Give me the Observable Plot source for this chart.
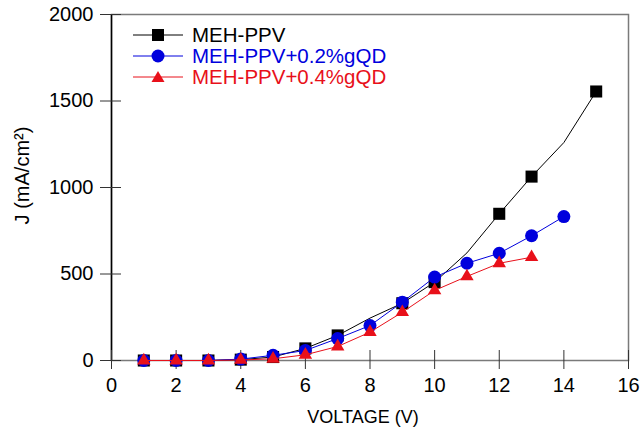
<!DOCTYPE html>
<html><head><meta charset="utf-8">
<script src="https://cdn.jsdelivr.net/npm/d3@7"></script>
<script src="https://cdn.jsdelivr.net/npm/@observablehq/plot@0.6"></script>
<style>
html,body{margin:0;padding:0;background:#fff;}
#wrap{position:relative;width:642px;height:439px;font-family:"Liberation Sans",Arial,sans-serif;}
#legend{position:absolute;left:133px;top:24px;font-size:20.5px;line-height:21px;}
#legend .row{display:flex;align-items:center;height:21px;}
#legend svg{margin-right:9px;}
</style>
</head><body>
<div id="wrap"></div>
<script>
const voltages = [1,2,3,4,5,6,7,8,9,10,11,12,13,14,15];
const mehPPV = [0,0,0,5,20,70,145,245,331,453,622,848,1063,1260,1555];
const mehPPVMarkerV = [1,2,3,4,5,6,7,9,10,12,13,15];
const gqd02V = [1,2,3,4,5,6,7,8,9,10,11,12,13,14];
const gqd02 = [0,0,0,8,30,58,127,202,337,482,562,620,721,832];
const gqd04V = [1,2,3,4,5,6,7,8,9,10,11,12,13];
const gqd04 = [0,0,0,3,10,33,81,164,279,405,486,562,597];
const xTicks = [0,2,4,6,8,10,12,14,16];
const yTicks = [0,500,1000,1500,2000];
const seriesNames = ["MEH-PPV","MEH-PPV+0.2%gQD","MEH-PPV+0.4%gQD"];
const colors = ["#000000","#0000dd","#e8101a"];

const black = voltages.map((v,i)=>({v, j:mehPPV[i]}));
const blackM = black.filter(d=>mehPPVMarkerV.includes(d.v));
const blue = gqd02V.map((v,i)=>({v, j:gqd02[i]}));
const red = gqd04V.map((v,i)=>({v, j:gqd04[i]}));

const innerY = 2000*10/346;
const innerX = 16*10/517;

const plot = Plot.plot({
  width:642, height:439,
  marginLeft:111, marginRight:14, marginTop:14, marginBottom:79,
  style:{fontFamily:'"Liberation Sans", Arial, sans-serif', background:"white", color:"black", overflow:"visible"},
  x:{domain:[0,16], ticks:xTicks},
  y:{domain:[0,2000], ticks:yTicks},
  marks:[
    Plot.frame({stroke:"#7a7a7a", strokeWidth:1.5}),
    Plot.ruleX([0], {stroke:"#000", strokeWidth:1.5}),
    Plot.ruleX(xTicks, {x:d=>d, y1:0, y2:innerY, stroke:"#333"}),
    Plot.ruleY(yTicks, {y:d=>d, x1:0, x2:innerX, stroke:"#333"}),
    Plot.axisX({ticks:xTicks, tickFormat:d=>String(d), tickSize:9, tickPadding:8, fontSize:20, label:null, stroke:"#333"}),
    Plot.axisY({ticks:yTicks, tickFormat:d=>String(d), tickSize:11, tickPadding:7, fontSize:20, label:null, stroke:"#333"}),
    Plot.line(black, {x:"v", y:"j", stroke:colors[0], strokeWidth:1}),
    Plot.dot(blackM, {x:"v", y:"j", symbol:"square", r:6.8, fill:colors[0], stroke:"none"}),
    Plot.line(blue, {x:"v", y:"j", stroke:colors[1], strokeWidth:1}),
    Plot.dot(blue, {x:"v", y:"j", symbol:"circle", r:6.5, fill:colors[1], stroke:"none"}),
    Plot.line(red, {x:"v", y:"j", stroke:colors[2], strokeWidth:1}),
    Plot.dot(red, {x:"v", y:"j", symbol:"triangle", r:5, fill:colors[2], stroke:"none"}),
    Plot.text(["J (mA/cm²)"], {frameAnchor:"left", text:d=>d, textAnchor:"middle", lineAnchor:"middle", rotate:-90, dx:-89, dy:-12, fontSize:20}),
    Plot.text(["VOLTAGE (V)"], {frameAnchor:"bottom", text:d=>d, textAnchor:"middle", dx:-7, dy:62, fontSize:18})
  ]
});
const wrap = document.getElementById("wrap");
wrap.appendChild(plot);

const legend = document.createElement("div");
legend.id = "legend";
const syms = [
  '<rect x="19" y="4" width="12" height="12"/>',
  '<circle cx="25" cy="10" r="6.5"/>',
  '<path d="M25 4 L31.5 15 L18.5 15 Z"/>'
];
seriesNames.forEach((name,i)=>{
  const row = document.createElement("div");
  row.className = "row";
  row.innerHTML = `<svg width="50" height="20"><line x1="0" x2="50" y1="10" y2="10" stroke="${colors[i]}" stroke-width="1"/><g fill="${colors[i]}">${syms[i]}</g></svg><span style="color:${colors[i]}">${name}</span>`;
  legend.appendChild(row);
});
wrap.appendChild(legend);
</script>
</body></html>
